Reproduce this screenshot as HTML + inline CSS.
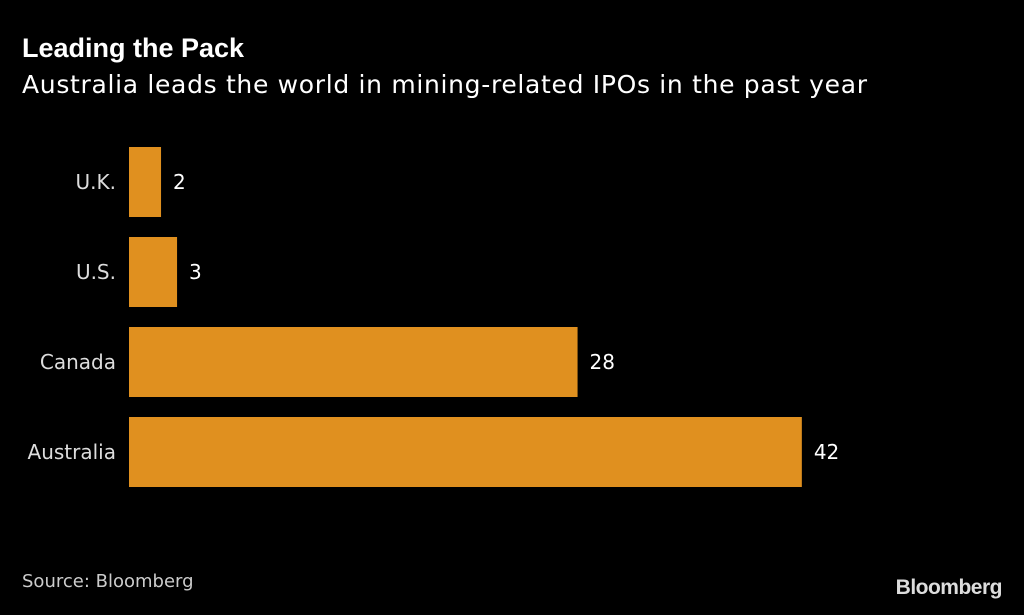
<!DOCTYPE html>
<html><head><meta charset="utf-8"><style>
body{margin:0;background:#000;width:1024px;height:610px;overflow:hidden;font-family:"Liberation Sans","DejaVu Sans",sans-serif;color:#fff}
</style></head><body>
<svg width="1024" height="610" xmlns="http://www.w3.org/2000/svg">
<rect width="1024" height="610" fill="#000"/>
<text x="22" y="57" font-size="27" font-weight="bold" fill="#fff" font-family="Liberation Sans, sans-serif">Leading the Pack</text>
<text x="22" y="93" font-size="25" fill="#fff" font-family="DejaVu Sans, sans-serif" textLength="845">Australia leads the world in mining-related IPOs in the past year</text>
<g id="bars"></g>
<text x="22" y="587" font-size="18" fill="#ccc" font-family="DejaVu Sans, sans-serif">Source: Bloomberg</text>
<text x="1002" y="594" font-size="21" font-weight="bold" fill="#ddd" text-anchor="end" font-family="Liberation Sans, sans-serif" letter-spacing="-0.5">Bloomberg</text>
</svg>
<script>
const categories = ["U.K.", "U.S.", "Canada", "Australia"];
const values = [2, 3, 28, 42];
const x0 = 129, unit = 16.02, top0 = 147, pitch = 90, barH = 70;
function xScale(v){ return x0 + v * unit; }
function yScale(i){ return top0 + i * pitch; }
const g = document.getElementById('bars');
const ns = "http://www.w3.org/2000/svg";
categories.forEach((c, i) => {
  const r = document.createElementNS(ns, 'rect');
  r.setAttribute('x', x0); r.setAttribute('y', yScale(i));
  r.setAttribute('width', xScale(values[i]) - x0); r.setAttribute('height', barH);
  r.setAttribute('fill', '#E0901F');
  
  
  g.appendChild(r);
  const l = document.createElementNS(ns, 'text');
  l.setAttribute('x', 116); l.setAttribute('y', yScale(i) + barH / 2 + 7);
  l.setAttribute('text-anchor', 'end'); l.setAttribute('font-size', '20');
  l.setAttribute('fill', '#ddd'); l.setAttribute('font-family', 'DejaVu Sans, sans-serif');
  l.textContent = c;
  
  
  g.appendChild(l);
  const v = document.createElementNS(ns, 'text');
  v.setAttribute('x', xScale(values[i]) + 12); v.setAttribute('y', yScale(i) + barH / 2 + 7);
  v.setAttribute('font-size', '20'); v.setAttribute('fill', '#fff');
  v.setAttribute('font-family', 'DejaVu Sans, sans-serif');
  v.textContent = values[i];
  
  
  g.appendChild(v);
});
</script>
</body></html>
